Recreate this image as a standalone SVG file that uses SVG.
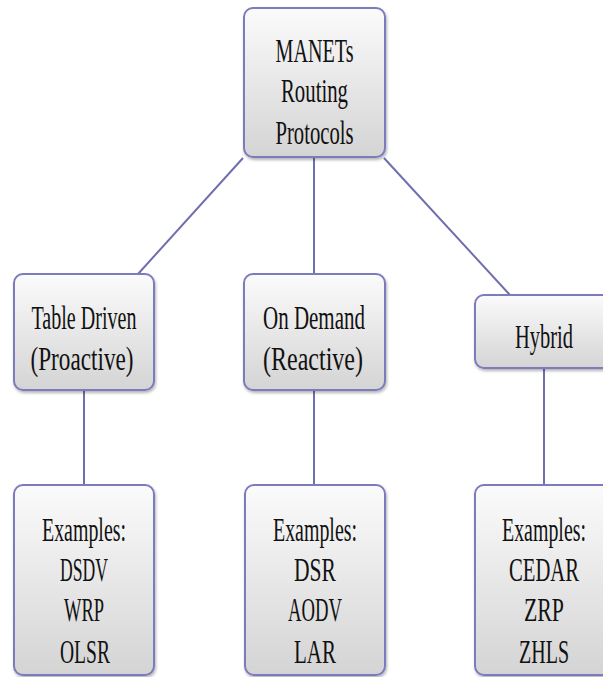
<svg xmlns="http://www.w3.org/2000/svg" width="603" height="677" viewBox="0 0 603 677">
<defs>
<linearGradient id="g" x1="0" y1="0" x2="0" y2="1">
<stop offset="0" stop-color="#fbfbfb"/>
<stop offset="1" stop-color="#d4d4d4"/>
</linearGradient>
<filter id="sh" x="-10%" y="-10%" width="130%" height="130%">
<feGaussianBlur in="SourceAlpha" stdDeviation="1.5"/>
<feOffset dx="1" dy="1.5" result="b"/>
<feComponentTransfer><feFuncA type="linear" slope="0.3"/></feComponentTransfer>
<feMerge><feMergeNode/><feMergeNode in="SourceGraphic"/></feMerge>
</filter>
</defs>
<style>
.box{fill:url(#g);stroke:#7b7bbd;stroke-width:2;filter:url(#sh)}
.t{font-family:"Liberation Serif","DejaVu Serif",serif;font-size:34px;fill:#111;text-anchor:middle}
.c{stroke:#6f6fb0;stroke-width:2;fill:none}
</style>
<g id="connectors">
<line class="c" x1="314" y1="157" x2="314" y2="274"/>
<line class="c" x1="243" y1="158" x2="138" y2="274"/>
<line class="c" x1="384" y1="158" x2="510" y2="295"/>
<line class="c" x1="84" y1="390" x2="84" y2="485"/>
<line class="c" x1="314" y1="390" x2="314" y2="485"/>
<line class="c" x1="544" y1="368" x2="544" y2="485"/>
</g>
<g id="root">
<rect class="box" x="244" y="8" width="141" height="149" rx="9"/>
<text class="t" x="314.5" y="62" textLength="78" lengthAdjust="spacingAndGlyphs">MANETs</text>
<text class="t" x="314.5" y="102" textLength="67" lengthAdjust="spacingAndGlyphs">Routing</text>
<text class="t" x="314.5" y="144" textLength="78" lengthAdjust="spacingAndGlyphs">Protocols</text>
</g>
<g id="tabledriven">
<rect class="box" x="14" y="274" width="140" height="116" rx="9"/>
<text class="t" x="84" y="329" textLength="105" lengthAdjust="spacingAndGlyphs">Table Driven</text>
<text class="t" x="82" y="370" textLength="103" lengthAdjust="spacingAndGlyphs">(Proactive)</text>
</g>
<g id="ondemand">
<rect class="box" x="244" y="274" width="141" height="116" rx="9"/>
<text class="t" x="314" y="329" textLength="102" lengthAdjust="spacingAndGlyphs">On Demand</text>
<text class="t" x="313" y="370" textLength="100" lengthAdjust="spacingAndGlyphs">(Reactive)</text>
</g>
<g id="hybrid">
<rect class="box" x="475" y="295" width="140" height="73" rx="9"/>
<text class="t" x="544" y="348" textLength="58" lengthAdjust="spacingAndGlyphs">Hybrid</text>
</g>
<g id="ex1">
<rect class="box" x="14" y="485" width="140" height="190" rx="9"/>
<text class="t" x="84" y="541" textLength="84" lengthAdjust="spacingAndGlyphs">Examples:</text>
<text class="t" x="84" y="581" textLength="48" lengthAdjust="spacingAndGlyphs">DSDV</text>
<text class="t" x="84" y="621" textLength="40" lengthAdjust="spacingAndGlyphs">WRP</text>
<text class="t" x="85" y="663" textLength="50" lengthAdjust="spacingAndGlyphs">OLSR</text>
</g>
<g id="ex2">
<rect class="box" x="245" y="485" width="140" height="190" rx="9"/>
<text class="t" x="315" y="541" textLength="84" lengthAdjust="spacingAndGlyphs">Examples:</text>
<text class="t" x="315" y="581" textLength="42" lengthAdjust="spacingAndGlyphs">DSR</text>
<text class="t" x="315" y="621" textLength="54" lengthAdjust="spacingAndGlyphs">AODV</text>
<text class="t" x="315" y="663" textLength="42" lengthAdjust="spacingAndGlyphs">LAR</text>
</g>
<g id="ex3">
<rect class="box" x="475" y="485" width="140" height="190" rx="9"/>
<text class="t" x="544" y="541" textLength="84" lengthAdjust="spacingAndGlyphs">Examples:</text>
<text class="t" x="544" y="581" textLength="70" lengthAdjust="spacingAndGlyphs">CEDAR</text>
<text class="t" x="544" y="621" textLength="40" lengthAdjust="spacingAndGlyphs">ZRP</text>
<text class="t" x="544" y="663" textLength="50" lengthAdjust="spacingAndGlyphs">ZHLS</text>
</g>
</svg>
